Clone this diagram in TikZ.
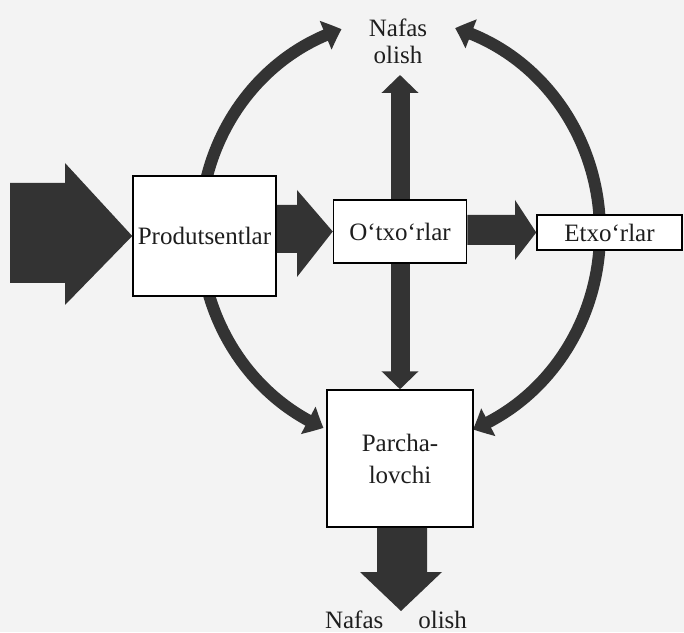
\documentclass[tikz,border=0pt]{standalone}
\usepackage{fontspec}
\setmainfont{Liberation Serif}
\usetikzlibrary{arrows.meta,bending}
\definecolor{ink}{HTML}{333333}
\definecolor{paper}{HTML}{F3F3F3}
\definecolor{txt}{HTML}{1E1E1E}
\begin{document}
\begin{tikzpicture}[x=1pt,y=1pt,
  box/.style={draw=black, line width=1.5pt, fill=white, inner sep=0pt, text=txt,
              font=\fontsize{25}{28}\selectfont, align=center},
  arcarrow/.style={draw=ink, line width=12pt, -{Triangle[length=17pt,width=30pt,bend]}},
  shaft/.style={draw=ink, line width=19pt, -{Triangle[length=18pt,width=36pt]}},
  blockarrow/.style={fill=ink},
  lbl/.style={font=\fontsize{25}{27}\selectfont, text=txt, align=center, inner sep=0pt}]
\fill[paper] (0,0) rectangle (684,632);
\useasboundingbox (0,0) rectangle (684,632);
\coordinate (C) at (400,400);

% curved arrows (drawn first, boxes cover their starts)
\draw[arcarrow] ([shift={(180:200pt and 212pt)}]C) arc[start angle=180,end angle=107,x radius=200pt,y radius=212pt];
\draw[arcarrow] ([shift={(180:200pt and 212pt)}]C) arc[start angle=180,end angle=247.5,x radius=200pt,y radius=212pt];
\draw[arcarrow] ([shift={(0:200pt and 212pt)}]C) arc[start angle=0,end angle=74,x radius=200pt,y radius=212pt];
\draw[arcarrow] ([shift={(0:200pt and 212pt)}]C) arc[start angle=0,end angle=-68.6,x radius=200pt,y radius=212pt];

% boxes
\node[box, minimum width=143pt, minimum height=120pt] (P) at (204.5,396) {Produtsentlar};
\node[box, minimum width=133pt, minimum height=63pt] (O) at (400,400.5) {O‘txo‘rlar};
\node[box, minimum width=145pt, minimum height=35pt] (E) at (609.5,399.5) {Etxo‘rlar};
\node[box, minimum width=146pt, minimum height=137pt, font=\fontsize{25}{32}\selectfont] (Pa) at (400,173.5) {Parcha-\\lovchi};

% labels
\node[lbl] (T) at (398,591) {Nafas\\olish};
\node[lbl, anchor=base] (B) at (396,4) {Nafas\hspace{35pt}olish};
\coordinate (upTip) at (400,557);
\coordinate (downTip) at (401,21);

% block arrows
\fill[blockarrow] (10,349) -- (65,349) -- (65,327) -- (P.west) -- (65,469) -- (65,449) -- (10,449) -- cycle;
\fill[blockarrow] (P.east |- 0,379) -- (297,379) -- (297,355) -- (O.west) -- (297,442) -- (297,427) -- (P.east |- 0,427) -- cycle;
\fill[blockarrow] (O.east |- 0,387) -- (515,387) -- (515,372) -- (E.west) -- (515,432) -- (515,417) -- (O.east |- 0,417) -- cycle;
\fill[blockarrow] (377,0 |- Pa.south) -- (377,60) -- (360,60) -- (downTip) -- (442,60) -- (427,60) -- (427,0 |- Pa.south) -- cycle;

% vertical arrows
\draw[shaft] (O.north) -- (upTip);
\draw[shaft] (O.south) -- (Pa.north);
\end{tikzpicture}
\end{document}
